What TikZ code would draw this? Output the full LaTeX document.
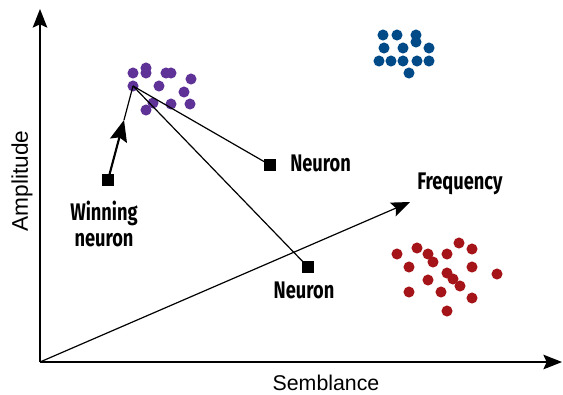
\documentclass[tikz,border=0pt]{standalone}
\usepackage{fontspec}
\setmainfont{Liberation Sans}
\newfontfamily\condb[FakeStretch=0.76]{Fira Sans}
\usetikzlibrary{arrows.meta}
\definecolor{cpurple}{RGB}{94,50,150}
\definecolor{cblue}{RGB}{0,75,135}
\definecolor{cred}{RGB}{165,20,25}
\tikzset{
  dot/.style={circle,inner sep=0pt,minimum size=8.3pt,draw=none},
  pdot/.style={dot,fill=cpurple},
  bdot/.style={dot,fill=cblue},
  rdot/.style={dot,fill=cred},
  sq/.style={rectangle,fill=black,inner sep=0pt,minimum size=9pt},
  axis/.style={line width=0.9pt,-{Stealth[length=14pt,width=11pt,inset=2.5pt]}},
  conn/.style={line width=0.9pt},
  warrow/.style={line width=1.6pt,-{Stealth[length=16pt,width=13pt,inset=2.5pt]}},
  blab/.style={font=\condb\bfseries\fontsize{18}{20}\selectfont,inner sep=0pt,align=center},
  alab/.style={font=\fontsize{16}{18}\selectfont,inner sep=0pt}
}
\begin{document}
\begin{tikzpicture}[x=0.75pt,y=-0.75pt]
\useasboundingbox (0,0) rectangle (563,394);
% axes
\coordinate (o) at (40,362);
\coordinate (ytip) at (40,9);
\coordinate (xtip) at (562,362);
\coordinate (ftip) at (410,202);
\draw[axis] (o) -- (ytip);
\draw[axis] (o) -- (xtip);
\draw[axis] (o) -- (ftip);
\node[alab,rotate=90,font=\fontsize{17}{18}\selectfont] (amp) at (22,181) {Amplitude};
\node[alab] (sem) at (326,383) {Semblance};
\node[blab] (freq) at (460,184) {Frequency};
% purple cluster
\foreach \n/\x/\y in {p1/133/73,p2/146/68,p3/146/73,p4/166/73,p5/171/73,p6/191/79,p7/133/86,p8/159/86,p9/184/92,p10/153/103,p11/171/104,p12/190/104,p13/146/110}
  \node[pdot] (\n) at (\x,\y) {};
% blue cluster
\foreach \n/\x/\y in {b1/383/35,b2/397/35,b3/416/35,b4/416/42,b5/384/48,b6/403/48,b7/429/48,b8/379/61,b9/391/61,b10/403/61,b11/417/61,b12/429/61,b13/409/73}
  \node[bdot] (\n) at (\x,\y) {};
% red cluster
\foreach \n/\x/\y in {r1/397/254,r2/417/248,r3/428/254,r4/433/262,r5/447/254,r6/459/243,r7/472/249,r8/409/267,r9/472/267,r10/497/274,r11/447/273,r12/453/279,r13/460/286,r14/428/280,r15/409/292,r16/441/292,r17/472/298,r18/447/311}
  \node[rdot] (\n) at (\x,\y) {};
% neurons
\node[sq] (n1) at (270,165) {};
\node[sq] (n2) at (308,267) {};
\node[sq] (wn) at (108,180) {};
\node[blab,anchor=west] (n1l) at (290,163) {Neuron};
\node[blab] (n2l) at (304,290) {Neuron};
\node[blab] (wnl) at (104,224) {Winning\\[-1pt]neuron};
% connectors
\draw[conn] (p7.center) -- (n1.center);
\draw[conn] (p7.center) -- (n2.center);
\coordinate (wtip) at (124,120);
\draw[conn] (wtip) -- (p7.center);
\draw[warrow] (wn.center) -- (wtip);
\end{tikzpicture}
\end{document}
